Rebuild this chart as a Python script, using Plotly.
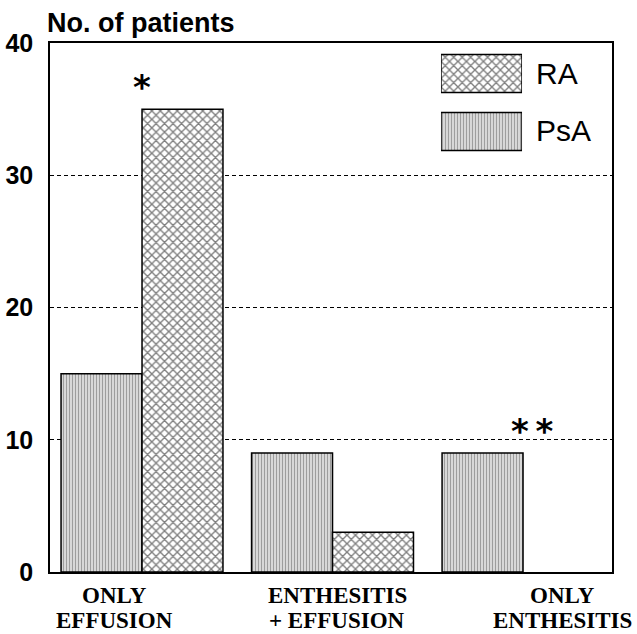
import plotly.graph_objects as go

categories_line1 = ["ONLY", "ENTHESITIS", "ONLY"]
categories_line2 = ["EFFUSION", "+ EFFUSION", "ENTHESITIS"]
psa = [15, 9, 9]
ra = [35, 3, 0]
y_ticks = [0, 10, 20, 30, 40]
label_pos = [-0.147, 1.024, 2.205]

xpos = list(range(len(categories_line1)))
W = 0.425

psa_pattern = dict(shape="|", size=3, solidity=0.6, fgcolor="#3c3c3c", bgcolor="white")
ra_pattern = dict(shape="x", size=6, solidity=0.4, fgcolor="black", bgcolor="white")

fig = go.Figure()
fig.add_trace(go.Bar(x=xpos, y=psa, width=W, offset=-W, name="PsA",
                     marker=dict(color="white", pattern=psa_pattern,
                                 line=dict(color="black", width=1.5)),
                     showlegend=False))
fig.add_trace(go.Bar(x=xpos, y=ra, width=W, offset=0, name="RA",
                     marker=dict(color="white", pattern=ra_pattern,
                                 line=dict(color="black",
                                           width=[1.5 if v > 0 else 0 for v in ra])),
                     showlegend=False))

# custom large legend swatches on an inset axis
fig.add_trace(go.Bar(y=["RA"], x=[1], orientation="h", width=0.655,
                     xaxis="x2", yaxis="y2", showlegend=False, hoverinfo="skip",
                     marker=dict(color="white", pattern=ra_pattern,
                                 line=dict(color="black", width=1.5))))
fig.add_trace(go.Bar(y=["PsA"], x=[1], orientation="h", width=0.655,
                     xaxis="x2", yaxis="y2", showlegend=False, hoverinfo="skip",
                     marker=dict(color="white", pattern=psa_pattern,
                                 line=dict(color="black", width=1.5))))

fig.update_layout(
    width=637, height=634,
    margin=dict(l=50, r=25, t=43, b=62, autoexpand=False),
    plot_bgcolor="white", paper_bgcolor="white",
    barmode="overlay",
    xaxis=dict(range=[-0.483, 2.467], showline=True, linecolor="black", linewidth=1.5,
               mirror=True, showgrid=False, zeroline=False, automargin=False,
               showticklabels=False, ticks=""),
    yaxis=dict(range=[0, 40], tickvals=y_ticks, showline=True, linecolor="black",
               linewidth=1.5, mirror=True, showgrid=True, gridcolor="black",
               gridwidth=0.9, griddash="4px,3px", zeroline=False, ticks="",
               automargin=False,
               tickfont=dict(family="Liberation Sans", size=25, color="black",
                             weight="bold"),
               ticklabelstandoff=10),
    xaxis2=dict(domain=[0.6957, 0.8399], range=[0, 1], visible=False, anchor="y2"),
    yaxis2=dict(domain=[0.7778, 0.9972], range=[-0.5, 1.5], visible=False, anchor="x2",
                categoryorder="array", categoryarray=["PsA", "RA"]),
    showlegend=False,
)

label_font = dict(family="Liberation Serif", size=23, color="black", weight="bold")
for xp, l1, l2 in zip(label_pos, categories_line1, categories_line2):
    fig.add_annotation(text=l1, x=xp, xref="x", y=0, yref="paper", yanchor="middle",
                       yshift=-23, showarrow=False, font=label_font)
    fig.add_annotation(text=l2, x=xp, xref="x", y=0, yref="paper", yanchor="middle",
                       yshift=-48.5, showarrow=False, font=label_font)

fig.add_annotation(text="No. of patients", xref="paper", yref="paper",
                   x=-0.009, y=1.0, xanchor="left", yanchor="middle", showarrow=False,
                   yshift=20,
                   font=dict(family="Liberation Sans", size=27, color="black",
                             weight="bold"))
fig.add_annotation(text="RA", xref="paper", yref="paper", x=0.861, y=0.942,
                   xanchor="left", yanchor="middle", showarrow=False,
                   font=dict(family="Liberation Sans", size=30, color="black"))
fig.add_annotation(text="PsA", xref="paper", yref="paper", x=0.861, y=0.835,
                   xanchor="left", yanchor="middle", showarrow=False,
                   font=dict(family="Liberation Sans", size=30, color="black"))
star_font = dict(family="DejaVu Sans", size=34, color="black", weight="bold")
fig.add_annotation(text="*", x=0.0, y=ra[0], yanchor="bottom", showarrow=False,
                   yshift=0, font=star_font)
fig.add_annotation(text="*\u2009*", x=2.05, y=psa[2], yanchor="bottom", showarrow=False,
                   yshift=0, font=star_font)

fig.write_html("out.html", config={"displayModeBar": False},
               post_script="document.body.style.margin='0';"
                           "document.body.style.overflow='hidden';")
